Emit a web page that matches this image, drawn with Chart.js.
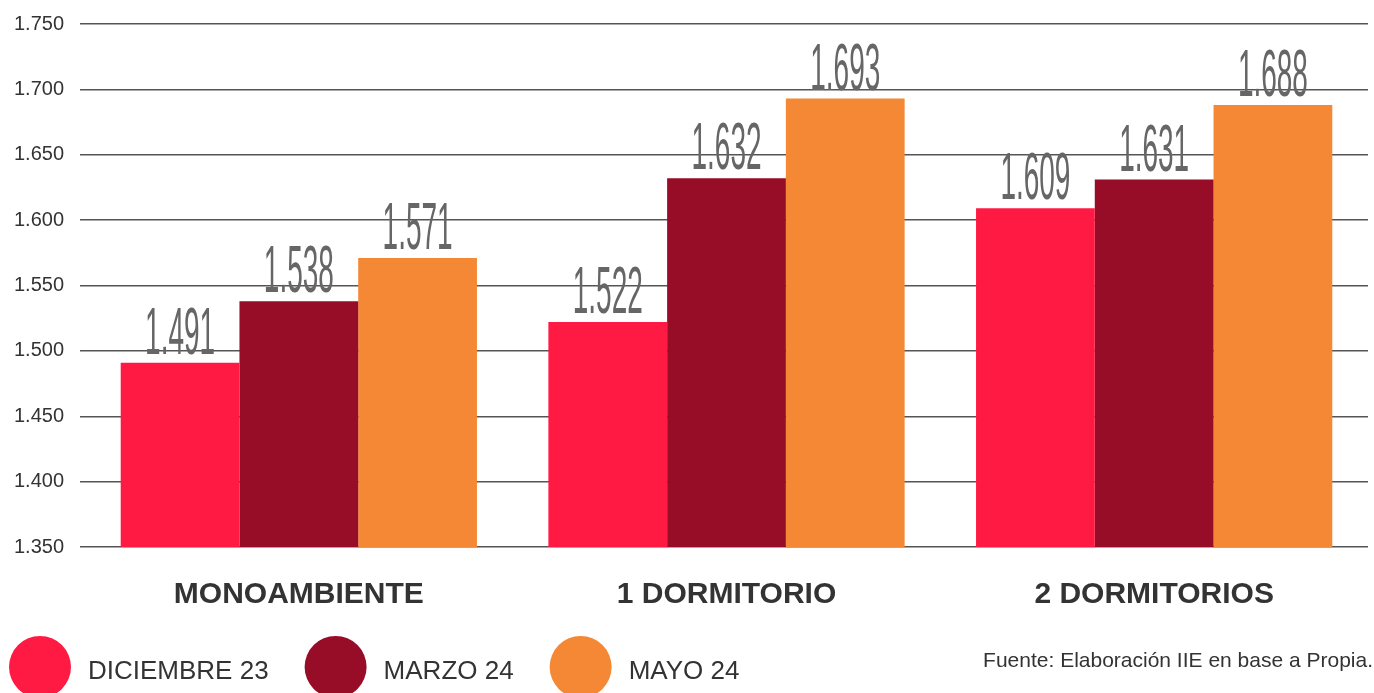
<!DOCTYPE html>
<html>
<head>
<meta charset="utf-8">
<script src="https://cdn.jsdelivr.net/npm/chart.js@4"></script>
<style>
  html, body { margin: 0; padding: 0; background: #fff; }
  #wrap { width: 1374px; height: 693px; position: relative; }
</style>
</head>
<body>
<div id="wrap"><canvas id="precioChart"></canvas></div>
<script>
// categorias y series
var categorias = ['MONOAMBIENTE', '1 DORMITORIO', '2 DORMITORIOS'];
var diciembre23 = [1491, 1522, 1609];
var marzo24 = [1538, 1632, 1631];
var mayo24 = [1571, 1693, 1688];
var serieNombres = ['DICIEMBRE 23', 'MARZO 24', 'MAYO 24'];
var serieColores = ['#ff1a44', '#970c26', '#f48835'];
var fuente = 'Fuente: Elaboración IIE en base a Propia.';

var yMin = 1350, yMax = 1750, yPaso = 50;

// 1491 -> "1.491"
function formatoMiles(v) {
    return String(Math.round(v)).replace(/\B(?=(\d{3})+(?!\d))/g, '.');
}

// etiquetas de valor sobre cada barra, tipografia condensada
var etiquetasValor = {
    id: 'etiquetasValor',
    afterDatasetsDraw: function (chart) {
        var ctx = chart.ctx;
        ctx.save();
        ctx.font = '400 67px "Liberation Sans", Arial, sans-serif';
        var sx = 70 / ctx.measureText('1.491').width;
        ctx.fillStyle = '#666666';
        ctx.textAlign = 'center';
        ctx.textBaseline = 'alphabetic';
        chart.data.datasets.forEach(function (ds, i) {
            chart.getDatasetMeta(i).data.forEach(function (bar, j) {
                ctx.save();
                ctx.translate(bar.x, bar.y - 9);
                ctx.scale(sx, 1);
                ctx.fillText(formatoMiles(ds.data[j]), 0, 0);
                ctx.restore();
            });
        });
        ctx.restore();
    }
};

// leyenda con circulos grandes y nota de fuente
var leyendaPie = {
    id: 'leyendaPie',
    afterDraw: function (chart) {
        var ctx = chart.ctx;
        ctx.save();
        ctx.font = '26px "Liberation Sans", Arial, sans-serif';
        ctx.textBaseline = 'alphabetic';
        ctx.textAlign = 'left';
        var x = 9, cy = 667, r = 31;
        chart.data.datasets.forEach(function (ds) {
            ctx.fillStyle = ds.backgroundColor;
            ctx.beginPath();
            ctx.arc(x + r, cy, r, 0, Math.PI * 2);
            ctx.fill();
            ctx.fillStyle = '#333333';
            var tx = x + 2 * r + 17;
            ctx.fillText(ds.label, tx, 679);
            x = tx + ctx.measureText(ds.label).width + 36;
        });
        ctx.font = '21px "Liberation Sans", Arial, sans-serif';
        ctx.textAlign = 'right';
        ctx.fillStyle = '#333333';
        ctx.fillText(fuente, 1373, 667);
        ctx.restore();
    }
};

var series = [diciembre23, marzo24, mayo24];

var ctx = document.getElementById('precioChart').getContext('2d');
new Chart(ctx, {
    type: 'bar',
    data: {
        labels: categorias,
        datasets: series.map(function (vals, i) {
            return {
                label: serieNombres[i],
                data: vals,
                backgroundColor: serieColores[i],
                borderWidth: 0,
                categoryPercentage: 0.833,
                barPercentage: 1.0
            };
        })
    },
    options: {
        responsive: true,
        maintainAspectRatio: false,
        animation: false,
        layout: { padding: { top: 24, right: 6, left: 0, bottom: 0 } },
        plugins: {
            legend: { display: false },
            tooltip: { enabled: false }
        },
        scales: {
            x: {
                grid: { display: false, drawTicks: false },
                border: { display: false },
                ticks: {
                    padding: 30,
                    color: '#333333',
                    font: { family: '"Liberation Sans", Arial, sans-serif', size: 30, weight: 'bold' }
                },
                afterFit: function (scale) { scale.height = 146; }
            },
            y: {
                min: yMin,
                max: yMax,
                grid: { color: '#555555', lineWidth: 1.5, tickLength: 5 },
                border: { display: false },
                ticks: {
                    stepSize: yPaso,
                    padding: 16,
                    color: '#333333',
                    font: { family: '"Liberation Sans", Arial, sans-serif', size: 20 },
                    callback: function (v) { return formatoMiles(v); }
                },
                afterFit: function (scale) {
                    scale.width = 85;
                    scale.paddingTop = 0;
                    scale.paddingBottom = 0;
                }
            }
        }
    },
    plugins: [etiquetasValor, leyendaPie]
});
</script>
</body>
</html>
